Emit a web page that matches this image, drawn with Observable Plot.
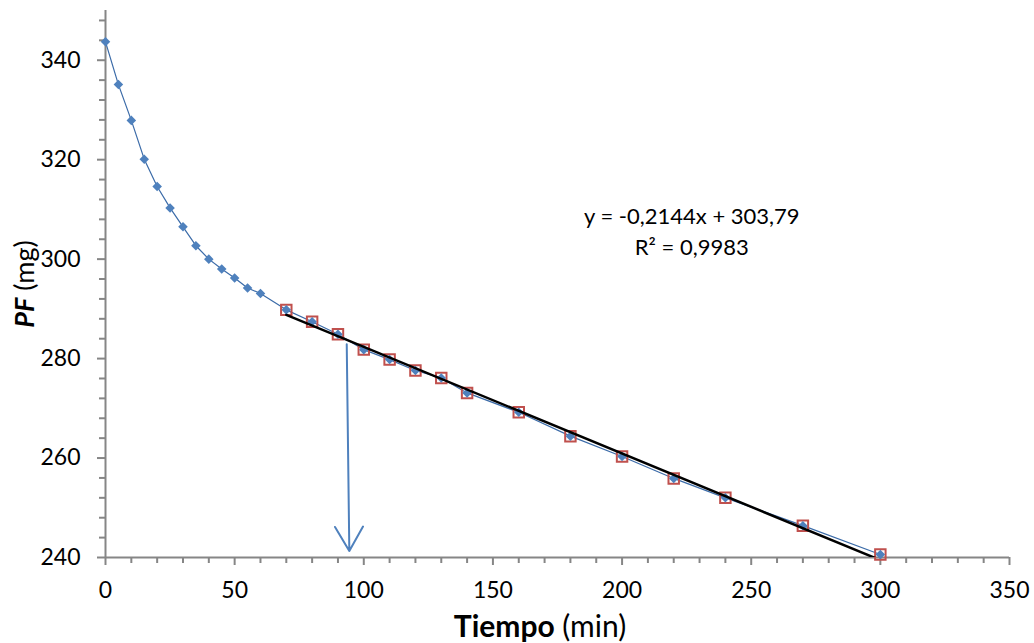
<!DOCTYPE html>
<html><head><meta charset="utf-8">
<script src="https://cdn.jsdelivr.net/npm/d3@7"></script>
<script src="https://cdn.jsdelivr.net/npm/@observablehq/plot@0.6"></script>
<style>html,body{margin:0;padding:0;background:#fff;}</style>
</head><body><div id="chart"></div>
<script>
// Data
const tiempo = [0,5,10,15,20,25,30,35,40,45,50,55,60,70,80,90,100,110,120,130,140,160,180,200,220,240,270,300];
const pf = [343.7,335.1,327.9,320.1,314.6,310.3,306.5,302.7,300.0,298.0,296.2,294.2,293.1,289.8,287.4,284.9,281.8,279.8,277.6,276.1,273.1,269.2,264.4,260.3,255.9,252.0,246.4,240.6];
const fitStart = 70;           // first point used in the linear fit
const slope = -0.2144;
const intercept = 303.79;
const eqLines = ["y = -0,2144x + 303,79", "R² = 0,9983"];
const xTicks = [0,50,100,150,200,250,300,350];
const yTicks = [240,260,280,300,320,340];
const xTitle = ["Tiempo", " (min)"];
const yTitle = ["PF", " (mg)"];
// arrow annotation (data units)
const arrowStart = {x: 93.4, y: 282.9};
const arrowEnd = {x: 94.4, y: 241.3};
const eqAnchor = {x: 227.0, y: 305.9};

const data = tiempo.map((t, i) => ({t, pf: pf[i]}));
const fitData = data.filter(d => d.t >= fitStart);
const fitExt = d3.extent(fitData, d => d.t);
const fitLine = fitExt.map(t => ({t, pf: intercept + slope * t}));
const xMinor = d3.range(0, 351, 10).filter(d => d % 50 !== 0);
const yMinor = d3.range(244, 350, 4).filter(d => (d - 240) % 20 !== 0);

const AXIS = "#868686";
const BLUE = "#4F81BD";
const RED = "#C0504D";

const chart = Plot.plot({
  width: 1034,
  height: 643,
  marginLeft: 105,
  marginRight: 25,
  marginTop: 10,
  marginBottom: 86,
  style: {fontFamily: "Lato, 'Open Sans', sans-serif", background: "#fff", color: "#000"},
  x: {domain: [0, 350]},
  y: {domain: [240, 350]},
  marks: [
    Plot.ruleX([0], {stroke: AXIS, strokeWidth: 2}),
    Plot.ruleY([240], {stroke: AXIS, strokeWidth: 2, x1: 0, x2: 350}),
    Plot.axisY({ticks: yMinor, tickSize: 6, fill: null, stroke: AXIS, strokeWidth: 2, label: null}),
    Plot.axisY({ticks: yTicks, tickSize: 8, tickPadding: 17, fill: "#000", stroke: AXIS, strokeWidth: 2, fontSize: 23, label: null}),
    Plot.axisX({ticks: xMinor, tickSize: 6, fill: null, stroke: AXIS, strokeWidth: 2, label: null}),
    Plot.axisX({ticks: xTicks, tickSize: 8, tickPadding: 16, fill: "#000", stroke: AXIS, strokeWidth: 2, fontSize: 23, label: null}),
    Plot.line(data, {x: "t", y: "pf", stroke: "#3B6BA8", strokeWidth: 1.2}),
    Plot.dot(fitData, {x: "t", y: "pf", symbol: "square", r: 5.9, stroke: RED, strokeWidth: 2, fill: "none"}),
    Plot.dot(data, {x: "t", y: "pf", symbol: "diamond2", r: 4.3, fill: BLUE, stroke: "none"}),
    Plot.line(fitLine, {x: "t", y: "pf", stroke: "#000", strokeWidth: 2.5, clip: true}),
    Plot.arrow([{x1: arrowStart.x, y1: arrowStart.y, x2: arrowEnd.x, y2: arrowEnd.y}],
      {x1: "x1", y1: "y1", x2: "x2", y2: "y2", stroke: BLUE, strokeWidth: 2, headLength: 21, headAngle: 60}),
    Plot.text([eqLines.join("\n")], {x: eqAnchor.x, y: eqAnchor.y, text: d => d, fontSize: 22, lineHeight: 1.4, textAnchor: "middle", fill: "#000"})
  ]
});

const svg = d3.select(chart);
const xt = svg.append("text")
  .attr("x", 540).attr("y", 626).attr("dy", "0.35em")
  .attr("text-anchor", "middle")
  .attr("font-size", 30).attr("fill", "#000");
xt.append("tspan").attr("font-weight", "bold").text(xTitle[0]);
xt.append("tspan").text(xTitle[1]);
const yt = svg.append("text")
  .attr("transform", "translate(25,284) rotate(-90)")
  .attr("dy", "0.35em")
  .attr("text-anchor", "middle")
  .attr("font-size", 27).attr("fill", "#000");
yt.append("tspan").attr("font-weight", "bold").attr("font-style", "italic").text(yTitle[0]);
yt.append("tspan").text(yTitle[1]);

document.getElementById("chart").appendChild(chart);
</script>
</body></html>
